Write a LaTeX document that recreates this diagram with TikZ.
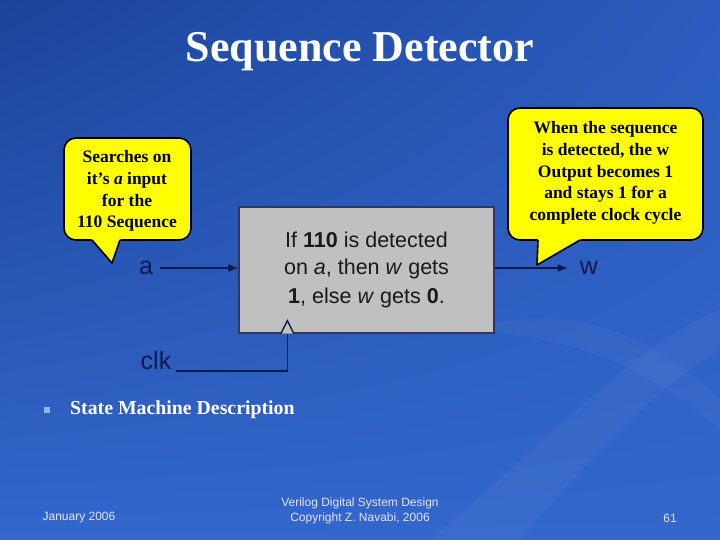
\documentclass[tikz,border=0pt]{standalone}
\usepackage{fontspec}
\setmainfont{Liberation Serif}
\newfontfamily\arialfont{Liberation Sans}
\usetikzlibrary{arrows.meta,positioning,shadings}
\definecolor{slidedark}{HTML}{1B4499}
\definecolor{slidemid}{HTML}{2B5BBE}
\definecolor{slidelight}{HTML}{3367CC}
\definecolor{navy}{HTML}{0A1A50}
\definecolor{boxgray}{HTML}{C0C0C0}
\definecolor{noteyellow}{HTML}{FFFF00}
\definecolor{bulletblue}{HTML}{8FB8F0}
\tikzset{
  callout/.style={fill=noteyellow,draw=black,line width=1.6pt,rounded corners=12pt},
  tailfill/.style={fill=noteyellow},
  tail/.style={draw=black,line width=1.6pt,line join=round},
  notetext/.style={font=\fontsize{17.5}{21.8}\selectfont\bfseries,align=center,inner sep=0},
  sig/.style={font=\arialfont\fontsize{25}{27}\selectfont,text=navy,inner sep=2pt},
  wire/.style={draw=navy,line width=1.3pt},
  foot/.style={font=\arialfont\fontsize{12}{14.5}\selectfont,text=white!90!blue,align=center}
}
\begin{document}
\begin{tikzpicture}[x=1pt,y=-1pt]
  \useasboundingbox (0,0) rectangle (720,540);
  % slide background
  \shade[upper left=slidedark,upper right=slidemid,lower left=slidelight,lower right=slidelight] (0,0) rectangle (720,540);
  \fill[white,opacity=0.035] (430,540) .. controls (560,430) and (640,340) .. (720,310) -- (720,350) .. controls (650,390) and (580,470) .. (520,540) -- cycle;
  \fill[white,opacity=0.03] (470,330) .. controls (560,300) and (650,330) .. (720,400) -- (720,430) .. controls (640,360) and (560,335) .. (470,330) -- cycle;
  % title
  \node[font=\fontsize{44}{48}\selectfont\bfseries,text=white] (title) at (360,52) {Sequence Detector};
  % detector block
  \node[draw=navy!70!gray,fill=boxgray,line width=1.3pt,minimum width=255pt,minimum height=126pt,
        font=\arialfont\fontsize{21.5}{27}\selectfont,align=center,text=black!90] (det) at (366.5,270)
        {If \textbf{110} is detected\\on \textit{a}, then \textit{w} gets\\[1.5pt]\textbf{1}, else \textit{w} gets \textbf{0}.};
  \node[sig] (ina) at (146,268) {a};
  \node[sig] (outw) at (589,268) {w};
  \node[sig] (clk) at (156,361) {clk};
  \coordinate (ck) at ([xshift=49pt]det.south west);
  \draw[wire,-{Latex[length=10pt,width=8pt]},shorten <=5pt] (ina.east) -- (det.west |- ina.east);
  \draw[wire,-{Latex[length=10pt,width=8pt]},shorten >=10pt] (det.east |- outw.west) -- (outw.west);
  \draw[wire] ([xshift=3pt,yshift=-1pt]clk.base east) -| (ck);
  \draw[wire,fill=boxgray] ([xshift=-6.5pt]ck) -- ([yshift=13pt]ck) -- ([xshift=6.5pt]ck);
  % left callout
  \draw[callout] (64,138) rectangle (191,240);
  \fill[tailfill] (90,236) -- (122,236) -- (120,240) -- (112,263) -- (92,240) -- cycle;
  \draw[tail] (92,240) -- (112,263) -- (120,240);
  \node[notetext] (noteA) at (127,191) {Searches on\\it’s \textit{a} input\\for the\\110 Sequence};
  % right callout
  \draw[callout] (508,108) rectangle (703,240);
  \fill[tailfill] (536,236) -- (583,236) -- (580,240) -- (537,265) -- (538,240) -- cycle;
  \draw[tail] (538,240) -- (537,265) -- (580,240);
  \node[notetext] (noteW) at (605.5,173) {When the sequence\\is detected, the w\\Output becomes 1\\and stays 1 for a\\complete clock cycle};
  % bullet
  \fill[bulletblue] (44,407) rectangle (50,413);
  \node[anchor=west,font=\fontsize{19.8}{22}\selectfont\bfseries,text=white,inner sep=0] (item) at (70,410) {State Machine Description};
  % footer
  \node[foot] (date) at (79,518) {January 2006};
  \node[foot] (course) at (360,511) {Verilog Digital System Design\\Copyright Z. Navabi, 2006};
  \node[foot] (page) at (670,518) {61};
\end{tikzpicture}
\end{document}
